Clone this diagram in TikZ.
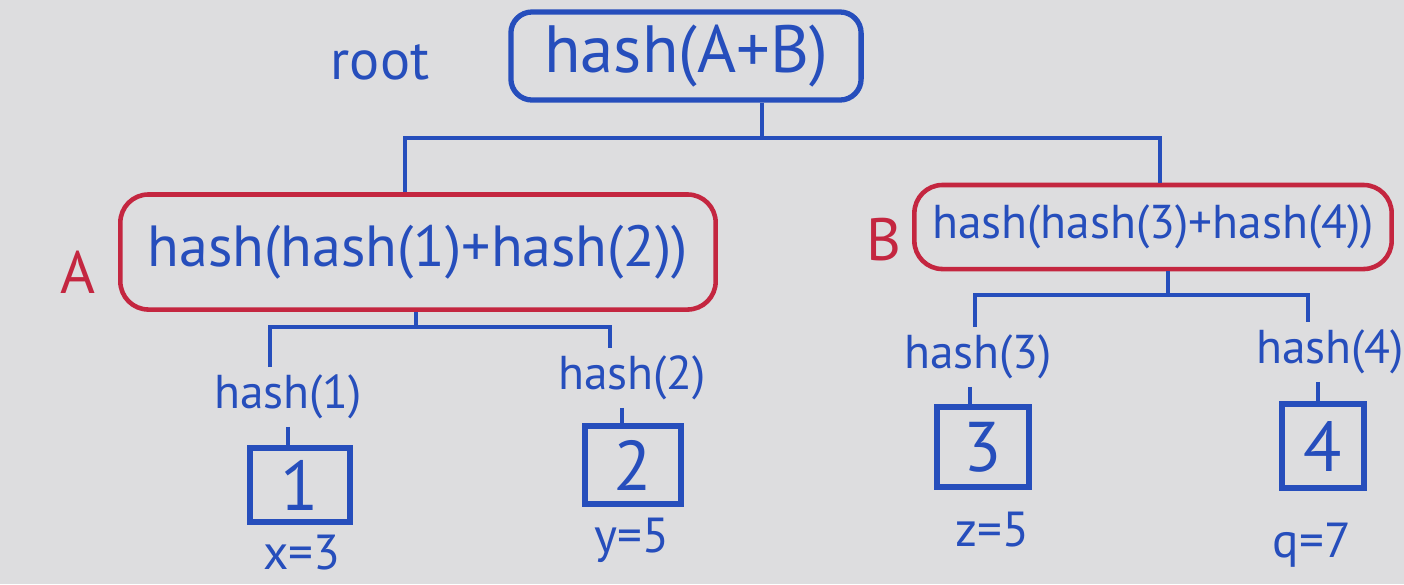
\documentclass[tikz,border=0pt]{standalone}
\usepackage{fontspec}
\setmainfont{PT Sans}
\usepackage{tikz}
\usetikzlibrary{
  positioning,
  calc
}

\definecolor{ink}{RGB}{38,78,188}
\definecolor{redink}{RGB}{196,38,64}
\definecolor{board}{RGB}{221,221,223}

\begin{document}
\begin{tikzpicture}[
  x=0.01cm, y=-0.01cm,
  hashbox/.style={
    draw=ink,
    line width=1.5pt,
    rounded corners=6pt,
    text=ink,
    align=center
  },
  pairbox/.style={
    draw=redink,
    line width=1.3pt,
    rounded corners=8pt,
    text=ink,
    align=center
  },
  leafbox/.style={
    draw=ink,
    line width=1.7pt,
    minimum width=0.95cm,
    minimum height=0.75cm,
    text=ink,
    font=\fontsize{20}{22}\selectfont
  },
  hlabel/.style={text=ink, inner sep=2pt, font=\fontsize{13.5}{15}\selectfont},
  vlabel/.style={text=ink, inner sep=1pt, font=\fontsize{14}{16}\selectfont},
  tag/.style={text=redink, font=\fontsize{17}{19}\selectfont},
  link/.style={draw=ink, line width=1.4pt}
]

% Background
\fill[board] (0,0) rectangle (1404,584);
\useasboundingbox (0,0) rectangle (1404,584);

% ==================== ROOT ====================
\node[hashbox, minimum width=3.5cm, minimum height=0.88cm,
  font=\fontsize{19}{22}\selectfont] (root) at (686,56) {hash(A+B)};
\node[text=ink, font=\fontsize{16}{18}\selectfont] (rootlbl) at (380,62) {root};

% ==================== LEVEL A / B ====================
\node[pairbox, minimum width=5.95cm, minimum height=1.15cm,
  font=\fontsize{16.5}{19}\selectfont] (nodeA) at (418,252) {hash(hash(1)+hash(2))};
\node[tag] (tagA) at (78,272) {A};

\node[pairbox, minimum width=4.77cm, minimum height=0.84cm,
  font=\fontsize{13.5}{16}\selectfont] (nodeB) at (1153,227) {hash(hash(3)+hash(4))};
\node[tag] (tagB) at (884,240) {B};

% root -> A, B
\coordinate (rj) at (762,138);
\draw[link] (root.south -| rj) -- (rj);
\draw[link] (nodeA.north -| 405,0) -- (405,0 |- rj) -- (1160,0 |- rj) -- (nodeB.north -| 1160,0);

% ==================== HASH LABELS ====================
\node[hlabel] (h1) at (288,397) {hash(1)};
\node[hlabel] (h2) at (632,378) {hash(2)};
\node[hlabel] (h3) at (978,357) {hash(3)};
\node[hlabel] (h4) at (1330,352) {hash(4)};

% A -> hash(1), hash(2)
\coordinate (aj) at (416,327);
\draw[link] (nodeA.south -| aj) -- (aj);
\draw[link] (h1.north -| 270,0) -- (270,0 |- aj) -- (610,0 |- aj) -- (h2.north -| 610,0);

% B -> hash(3), hash(4)
\coordinate (bj) at (1168,295);
\draw[link] (nodeB.south -| bj) -- (bj);
\draw[link] (h3.north -| 975,0) -- (975,0 |- bj) -- (1308,0 |- bj) -- (h4.north -| 1308,0);

% ==================== LEAVES ====================
\node[leafbox, minimum width=1.0cm, minimum height=0.68cm] (L1) at (300,485) {1};
\node[leafbox, minimum width=0.95cm, minimum height=0.78cm] (L2) at (633,465) {2};
\node[leafbox, minimum width=0.92cm, minimum height=0.8cm] (L3) at (983,447) {3};
\node[leafbox, minimum width=0.82cm, minimum height=0.84cm] (L4) at (1323,446) {4};

\draw[link] (h1.south) -- (h1.south |- L1.north);
\draw[link] (h2.south -| 622,0) -- (622,0 |- L2.north);
\draw[link] (h3.south -| 970,0) -- (970,0 |- L3.north);
\draw[link] (h4.south -| 1318,0) -- (1318,0 |- L4.north);

% values
\node[vlabel] (v1) at (302,553) {x=3};
\node[vlabel] (v2) at (632,540) {y=5};
\node[vlabel] (v3) at (992,530) {z=5};
\node[vlabel] (v4) at (1312,545) {q=7};

\end{tikzpicture}
\end{document}
